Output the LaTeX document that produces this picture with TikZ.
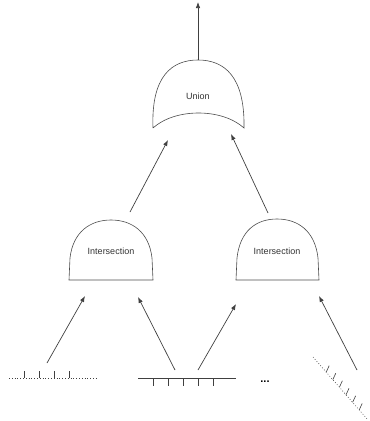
\documentclass[tikz,border=0pt]{standalone}
\usepackage{fontspec}
\setmainfont{Liberation Sans}
\usetikzlibrary{arrows.meta,calc}
\tikzset{>={Latex[length=6pt,width=4.5pt]}}
\tikzstyle{arrow}   = [->,
                       line width=0.7pt,
                       draw=black!75]
\tikzstyle{gate}    = [draw=black!70,
                       line width=0.6pt]
\tikzstyle{gatetext}= [inner sep=0pt,
                       font=\fontsize{9}{11}\selectfont,
                       text=black!80]
\tikzstyle{tick}    = [draw=black!75,
                       line width=0.6pt]
\tikzstyle{dots}    = [draw=black!75,
                       line width=0.6pt,
                       dash pattern=on 0.8pt off 2pt]

\begin{document}
\begin{tikzpicture}[x=1pt,y=-1pt]

  \useasboundingbox (0,0) rectangle (370,421);

  % Gates
  \draw[gate] (153,128) .. controls (151,76) and (172,60) .. (198,60)
    .. controls (224,60) and (245,76) .. (244,128)
    .. controls (222,108) and (175,108) .. (153,128);
  \draw[gate] (69,280) -- (70,258) .. controls (73,232) and (90,220) .. (111,220)
    .. controls (132,220) and (149,232) .. (152,258) -- (153,280) -- cycle;
  \draw[gate] (236,280) -- (237,258) .. controls (240,231) and (256,219) .. (277,219)
    .. controls (298,219) and (315,231) .. (318,258) -- (319,280) -- cycle;

  % Nodes
  \node[gatetext] (union) at (198,96) {Union};
  \node[gatetext] (int1) at (111,251) {Intersection};
  \node[gatetext] (int2) at (277,251) {Intersection};
  \node[inner sep=0pt, font=\fontsize{11}{12}\selectfont\bfseries] (more) at (265,382) {...};

  \coordinate (out) at (198,60);
  \coordinate (top) at (198,2);
  \coordinate (int1out) at (130,212);
  \coordinate (int2out) at (268,213);
  \coordinate (union1) at (168,140);
  \coordinate (union2) at (231,134);
  \coordinate (int1a) at (85,296);
  \coordinate (int1b) at (138,297);
  \coordinate (int2a) at (236,304);
  \coordinate (int2b) at (319,296);
  \coordinate (src1) at (47,363);
  \coordinate (src2) at (175,370);
  \coordinate (src3) at (198,370);
  \coordinate (src4) at (357,370);

  % Edges
  \draw[arrow] (out) -- (top);
  \draw[arrow] (int1out) -- (union1);
  \draw[arrow] (int2out) -- (union2);
  \draw[arrow] (src1) -- (int1a);
  \draw[arrow] (src2) -- (int1b);
  \draw[arrow] (src3) -- (int2a);
  \draw[arrow] (src4) -- (int2b);

  % Inputs
  \draw[dots] (9,378) -- (98,378);
  \foreach \x in {24,39,54,69}
    \draw[tick] (\x,378) -- (\x,371);

  \draw[tick] (138,378) -- (236,378);
  \foreach \x in {153,168,183,198,213}
    \draw[tick] (\x,378) -- (\x,386);

  \coordinate (rs) at (313,357);
  \coordinate (re) at (368,420);
  \draw[dots] (rs) -- (re);
  \foreach \t in {0.24,0.36,0.48,0.60,0.72,0.84}
    \draw[tick] ($(rs)!\t!(re)$) -- ++(3,-6.5);

\end{tikzpicture}
\end{document}
